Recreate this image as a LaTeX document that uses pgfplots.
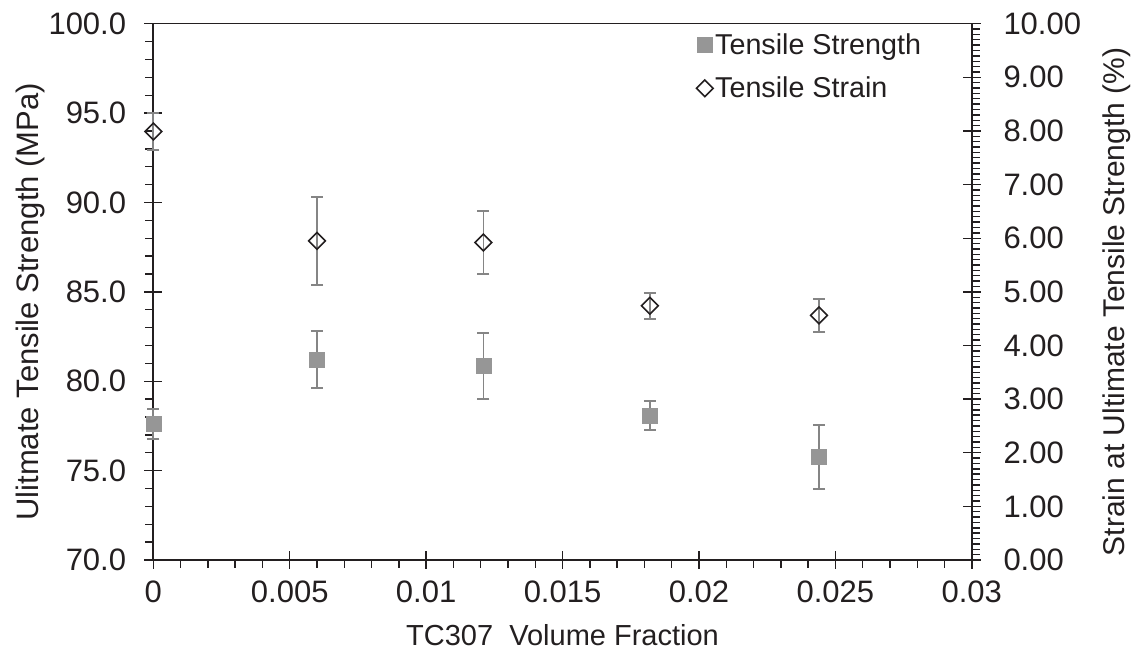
\documentclass[border=0pt]{standalone}
\usepackage{pgfplots}
\pgfplotsset{compat=1.18}
\usepackage{pgfplotstable}
\usepackage{fontspec}
\setmainfont{Liberation Sans}
\definecolor{ink}{HTML}{231F20}
\definecolor{sqgray}{HTML}{969696}
\definecolor{errgray}{HTML}{858585}

\pgfplotstableread{
x      y      e
0      77.60  0.85
0.0060 81.22  1.60
0.0121 80.87  1.85
0.0182 78.08  0.82
0.0244 75.78  1.79
}\strength

\pgfplotstableread{
x      y     e
0      7.99  0.35
0.0060 5.95  0.82
0.0121 5.92  0.59
0.0182 4.74  0.24
0.0244 4.56  0.31
}\strain

\begin{document}
\begin{tikzpicture}
\pgfplotsset{
  common/.style={
    scale only axis, width=818.5pt, height=536.3pt,
    xmin=0, xmax=0.03,
    clip=false,
    axis line style={ink, line width=1.6pt},
    every tick/.style={ink, line width=1.4pt},
    tick align=center,
    major tick length=18pt,
    minor tick length=8pt,
    tick label style={font=\fontsize{31}{36}\selectfont, text=ink, inner sep=0pt},
    label style={font=\fontsize{29}{34}\selectfont, text=ink, inner sep=0pt},
    /pgf/number format/assume math mode=true,
  },
  strerr/.style={error bars/.cd, y dir=both, y explicit,
    error bar style={errgray, line width=1.8pt},
    error mark options={rotate=90, errgray, line width=1.8pt, mark size=6pt}},
}
\begin{axis}[common,
  ymin=70, ymax=100,
  ytick={70,75,80,85,90,95,100},
  minor y tick num=4,
  xtick={0,0.005,0.01,0.015,0.02,0.025,0.03},
  minor x tick num=4,
  xtick pos=bottom, ytick pos=left,
  scaled x ticks=false,
  xticklabel style={/pgf/number format/fixed, /pgf/number format/precision=3, anchor=north, yshift=-11.5pt},
  yticklabel style={/pgf/number format/fixed, /pgf/number format/fixed zerofill, /pgf/number format/precision=1, anchor=east, xshift=-18pt},
  every minor x tick/.append style={yshift=-4pt},
  every minor y tick/.append style={xshift=-4pt},
  xlabel={TC307\ \ Volume Fraction},
  ylabel={Ulitmate Tensile Strength (MPa)},
  xlabel style={at={(axis description cs:0.5,0)}, anchor=center, yshift=-75pt},
  ylabel style={at={(axis description cs:0,0.5)}, anchor=center, yshift=123.3pt, xshift=-10pt, font=\fontsize{31}{36}\selectfont},
]
\addplot[only marks, mark=square*, mark size=7.5pt, mark options={fill=sqgray, draw=sqgray}, strerr]
  table[x=x, y=y, y error=e] {\strength};
\end{axis}
\begin{axis}[common,
  axis y line*=right, axis x line=none,
  ymin=0, ymax=10,
  ytick={0,1,2,3,4,5,6,7,8,9,10},
  minor y tick num=9,
  yticklabel style={/pgf/number format/fixed, /pgf/number format/fixed zerofill, /pgf/number format/precision=2, anchor=west, xshift=22.5pt},
  every minor y tick/.append style={xshift=4pt},
  ylabel={Strain at Ultimate Tensile Strength (\%)},
  ylabel style={at={(axis description cs:1,0.5)}, anchor=center, yshift=-144.5pt, xshift=-10pt, font=\fontsize{30}{35}\selectfont},
  legend style={draw=none, fill=none, at={(axis description cs:0.6634,1)}, anchor=north west, inner sep=0pt, yshift=-8pt, font=\fontsize{28.7}{32}\selectfont, text=ink, row sep=17pt},
  legend cell align=left,
]
\addlegendimage{only marks, mark=square*, mark size=7.5pt, mark options={fill=sqgray, draw=sqgray}}
\addlegendentry{Tensile Strength}
\addplot[only marks, mark=square, mark size=5.9pt, mark options={rotate=45, draw=ink, line width=1.6pt, fill=none}, strerr]
  table[x=x, y=y, y error=e] {\strain};
\addlegendentry{Tensile Strain}
\end{axis}
\pgfresetboundingbox
\path (-153.3pt,-98pt) rectangle (990.7pt,560pt);
\end{tikzpicture}
\end{document}
